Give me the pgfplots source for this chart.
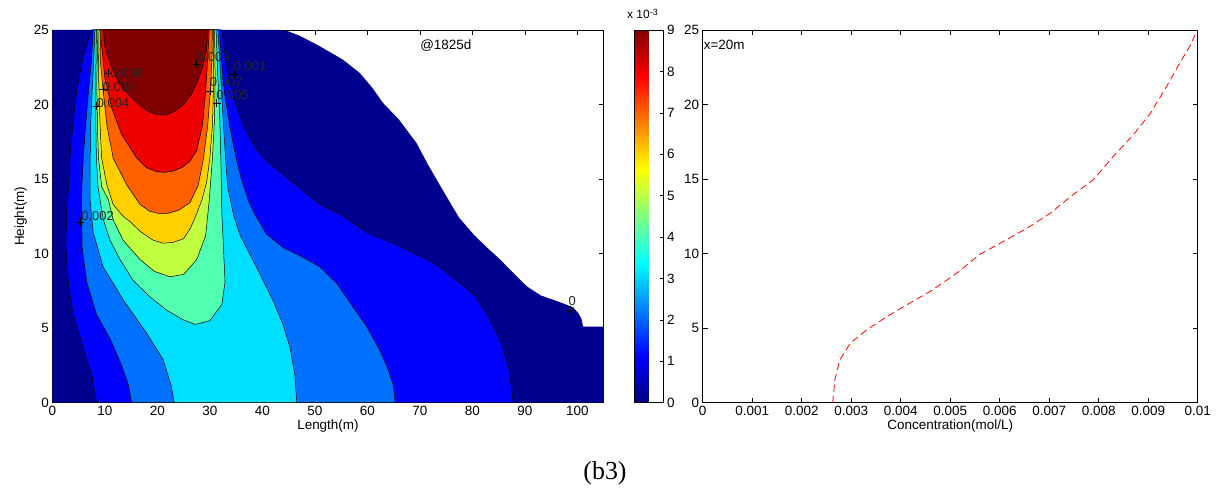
\documentclass[border=0pt]{standalone}
\usepackage{fontspec}
\setmainfont{Liberation Sans}
\newfontfamily\capfont{Liberation Serif}
\usepackage{pgfplots}
\pgfplotsset{compat=1.18}
\definecolor{c0}{HTML}{00008F}
\definecolor{c1}{HTML}{0000FF}
\definecolor{c2}{HTML}{0070FF}
\definecolor{c3}{HTML}{00DFFF}
\definecolor{c4}{HTML}{50FFAF}
\definecolor{c5}{HTML}{BFFF40}
\definecolor{c6}{HTML}{FFCF00}
\definecolor{c7}{HTML}{FF6000}
\definecolor{c8}{HTML}{EF0000}
\definecolor{c9}{HTML}{800000}
\pgfplotsset{
  mlab/.style={
    scale only axis,
    tick align=inside,
    major tick length=5bp,
    axis line style={line width=0.7bp},
    every tick/.style={black, line width=0.6bp},
    tick label style={font=\fontsize{13.5}{15}\selectfont},
    label style={font=\fontsize{13.5}{15}\selectfont},
    xlabel style={yshift=3bp},
    /pgf/number format/assume math mode=true,
  },
  cline/.style={draw=black, line width=0.5bp},
}
\begin{document}
\begin{tikzpicture}
\path[use as bounding box] (0bp,0bp) rectangle (1219bp,493bp);
% ---------------- left contour axis ----------------
\begin{axis}[mlab,
  at={(52.3bp,90.3bp)}, anchor=south west,
  width=551.3bp, height=372.7bp,
  xmin=0, xmax=105, ymin=0, ymax=25,
  xtick={0,10,...,100}, ytick={0,5,...,25},
  xlabel={Length(m)}, ylabel={Height(m)},
  colorbar, colormap/jet,
  point meta min=0, point meta max=9,
  colorbar style={
    scale only axis,
    at={(parent axis.north east)}, anchor=north west, xshift=22.4bp,
    width=29bp,
    ytick={0,1,...,9},
    ytick pos=right,
    tick align=inside,
    major tick length=4bp,
    axis line style={line width=0.7bp},
    tick label style={font=\fontsize{13.5}{15}\selectfont},
    /pgf/number format/assume math mode=true,
  },
]
% domain (level 0)
\addplot[draw=none, fill=c0] coordinates {
(0,0) (105,0) (105,5.1) (101.1,5.1) (100.8,5.6) (100.2,6.0) (99.2,6.4) (97,6.7)
(95.4,6.9) (93,7.2) (90.4,7.8) (87.8,8.7) (85.3,9.6) (82.5,10.5) (80.2,11.3)
(77.5,12.4) (75.8,13.4) (73.8,14.6) (71.5,16.0) (69.4,17.4) (66,19.0) (63,20.1)
(61,21.1) (58.6,22.1) (55.4,23.0) (51,23.9) (47.2,24.6) (45,24.9) (43.5,25) (0,25)
} -- cycle;
% level 0.001
\addplot[cline, fill=c1] coordinates {
(7.5,25) (6.55,24) (5.6,22.7) (4.65,20.9) (3.9,18.6) (3.37,16.4) (3.05,14.2)
(2.7,12.6) (2.6,10.4) (3.05,8.1) (4.0,5.9) (5.9,3.65) (7.5,1.86) (8.45,0)
(87.8,0) (87.5,0.85) (86.9,2.4) (85.3,4.2) (82.7,6.0) (80.2,7.3) (77,8.2)
(72.6,9.4) (66.2,10.5) (60,11.4) (55,12.6) (51.0,13.3) (47.8,14.2) (44,15.3)
(40.8,16.2) (38.3,17.3) (36.4,18.6) (34.8,20.2) (33.5,22) (32.6,24) (32.3,25)
} -- cycle;
% level 0.002
\addplot[cline, fill=c2] coordinates {
(7.8,25) (7.5,23.1) (6.9,20.9) (6.35,18.6) (5.9,16.4) (5.6,14.2) (5.6,12.6)
(5.7,10.4) (6.55,8.1) (8.45,5.9) (11.0,4.3) (13.2,2.5) (14.5,1.2) (15.1,0)
(65.3,0) (65.0,1.07) (64.0,2.2) (62.4,3.5) (59.9,5.1) (57.3,6.4) (54.2,8.0)
(51.0,9.1) (47.5,9.8) (44.0,10.4) (40.8,11.3) (38.6,12.6) (37.3,13.6) (36.0,15)
(35.0,16.4) (33.8,18.5) (32.8,20.8) (32.2,23) (31.8,25)
} -- cycle;
% level 0.003
\addplot[cline, fill=c3] coordinates {
(8.1,25) (7.9,23) (7.6,21) (7.3,18.6) (7.2,16) (7.2,13.6) (7.8,11.4) (9.7,9.1)
(13.5,6.9) (18.0,4.65) (21.1,2.9) (22.7,1.07) (23.2,0)
(46.55,0) (46.2,1.86) (45.3,3.65) (44.0,5.2) (42.1,6.8) (39.6,8.6) (38.0,9.7)
(35.75,11.25) (34.5,12.6) (33.4,14.5) (33.0,16.4) (32.6,18.6) (32.2,21) (31.9,23) (31.5,25)
} -- cycle;
% level 0.004
\addplot[cline, fill=c4] coordinates {
(8.4,25) (8.3,22) (8.3,18.6) (8.4,16.4) (8.7,14.5) (9.1,13.6) (9.7,12.3)
(11.0,10.9) (12.9,9.6) (15.4,8.2) (18.6,7.1) (21.8,6.2) (25,5.55) (27.2,5.25)
(30.0,5.5) (32.3,6.6) (32.9,8.1) (32.6,10.4) (32.3,12.6) (32.2,14.5) (32.1,16.4)
(31.9,19) (31.5,22) (31.2,25)
} -- cycle;
% level 0.005
\addplot[cline, fill=c5] coordinates {
(8.7,25) (8.5,22) (8.5,20.9) (8.6,18.6) (8.8,16.4) (9.4,14.5) (10.7,13.6)
(11.6,12.25) (13.5,10.9) (16.7,9.6) (19.5,8.8) (22.4,8.45) (25,8.6) (27.5,9.6)
(29.2,11.2) (29.9,13.6) (30.5,16.4) (30.9,19) (31.0,22) (30.9,25)
} -- cycle;
% level 0.006
\addplot[cline, fill=c6] coordinates {
(8.9,25) (8.8,22) (9.1,18.6) (9.4,16.4) (10.4,14.6) (11.6,13.3) (13.5,12.5)
(14.8,12.15) (16.7,11.5) (19.2,10.9) (21.1,10.7) (23,10.75) (25,11.0) (26.3,11.7)
(27.3,12.5) (28.5,13.6) (29.4,14.8) (30.0,16.4) (30.5,18.6) (30.7,21) (30.7,25)
} -- cycle;
% level 0.007
\addplot[cline, fill=c7] coordinates {
(9.2,25) (9.1,23.1) (9.7,20.9) (10.4,18.6) (11.6,16.4) (14.2,14.6) (16.7,13.3)
(18.5,12.85) (20.2,12.7) (22,12.7) (24,12.9) (26.2,13.4) (27.8,14.6) (28.8,16.4)
(29.6,18.6) (30.1,20.9) (30.4,23) (30.5,25)
} -- cycle;
% level 0.008
\addplot[cline, fill=c8] coordinates {
(9.45,25) (9.4,24) (10.0,21.8) (11.3,19.8) (13.2,18.0) (16.1,16.4) (18,15.75)
(19.9,15.5) (21.5,15.45) (23.1,15.55) (24.8,15.8) (26.2,16.2) (27.5,16.9)
(28.6,18.6) (29.2,20.9) (29.6,23.1) (29.9,25)
} -- cycle;
% level 0.009
\addplot[cline, fill=c9] coordinates {
(9.7,25) (10.0,24) (10.5,23.3) (11.3,22.5) (12.5,21.6) (14.2,20.8) (16.5,20.0)
(18.5,19.5) (20.2,19.3) (21.8,19.3) (23.5,19.6) (25,20.0) (26.5,20.7) (27.7,21.6)
(28.6,22.5) (29.3,23.5) (29.7,25)
} -- cycle;
% contour label markers
\addplot[only marks, mark=+, mark size=4bp, black, line width=0.5bp] coordinates {
(10.6,22.1) (9.7,21.0) (8.45,19.9) (5.3,12.1) (27.5,22.7) (34.7,22.0)
(30.0,20.9) (31.3,20.1) (98.6,6.2)
};
\begin{scope}[every node/.style={font=\fontsize{13}{14}\selectfont, inner sep=0pt, text=black!85}]
\node at (axis cs:14.13,22.13) {0.008};
\node at (axis cs:12.71,21.15) {0.006};
\node at (axis cs:11.56,20.11) {0.004};
\node at (axis cs:8.61,12.53) {0.002};
\node at (axis cs:30.67,23.17) {0.009};
\node at (axis cs:37.66,22.60) {0.001};
\node at (axis cs:33.09,21.49) {0.007};
\node at (axis cs:34.33,20.64) {0.005};
\node at (axis cs:99.0,6.82) {0};
\end{scope}
\node[font=\fontsize{13.5}{15}\selectfont, inner sep=0pt] at (axis cs:74.95,23.95) {@1825d};
\end{axis}
\node[anchor=west, inner sep=0pt, font=\fontsize{12}{13}\selectfont] at (627bp,479bp)
  {x 10\raisebox{0.6ex}{\fontsize{9}{10}\selectfont -3}};
% ---------------- right profile axis ----------------
\begin{axis}[mlab,
  at={(702.7bp,90.3bp)}, anchor=south west,
  width=495bp, height=372.7bp,
  xmin=0, xmax=0.01, ymin=0, ymax=25,
  xtick={0,0.001,0.002,0.003,0.004,0.005,0.006,0.007,0.008,0.009,0.01},
  xticklabels={0,0.001,0.002,0.003,0.004,0.005,0.006,0.007,0.008,0.009,0.01},
  scaled x ticks=false,
  ytick={0,5,...,25},
  xlabel={Concentration(mol/L)},
]
\addplot[red, line width=0.8bp, dash pattern=on 7bp off 4bp] coordinates {
(0.002626,0) (0.00267,1.52) (0.00277,2.87) (0.00298,3.99) (0.00331,4.88)
(0.00372,5.77) (0.00412,6.56) (0.00459,7.45) (0.00513,8.68) (0.0056,9.95)
(0.00601,10.7) (0.00655,11.7) (0.00702,12.7) (0.00742,13.8) (0.00789,14.95)
(0.00829,16.5) (0.0087,17.97) (0.00904,19.4) (0.00937,21.2) (0.00964,22.8)
(0.00984,23.9) (0.00999,25)
};
\node[anchor=west, inner sep=0pt, font=\fontsize{13.5}{15}\selectfont] at (axis cs:0.00002,24) {x=20m};
\end{axis}
\node[font=\capfont\fontsize{26}{28}\selectfont] at (605bp,19.5bp) {(b3)};
\end{tikzpicture}
\end{document}
